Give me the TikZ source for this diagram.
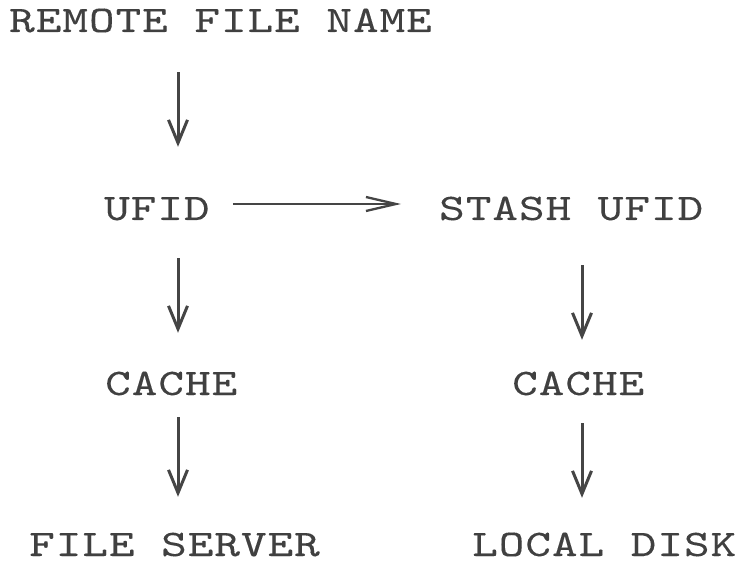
\documentclass[tikz,border=0pt]{standalone}
\usepackage{fontspec}
\setmonofont{lmmono10-regular}[Extension=.otf, FakeStretch=1.3, FakeBold=0.15, LetterSpace=2.7]
\usetikzlibrary{arrows.meta}
\definecolor{ink}{HTML}{404040}
\definecolor{arrowc}{HTML}{454545}
\begin{document}
\begin{tikzpicture}[x=1pt,y=-1pt,
  lbl/.style={font=\ttfamily\fontsize{37.5}{37.5}\selectfont, text=ink,
    inner sep=0pt, anchor=base west, text height=22pt, text depth=0pt},
  varr/.style={draw=arrowc, line width=3pt,
    -{Straight Barb[length=23pt,width=19pt]}},
  harr/.style={draw=arrowc, line width=2.3pt,
    -{Straight Barb[length=30pt,width=14pt]}}]
  \fill[white] (0,0) rectangle (739,561);
  \useasboundingbox (0,0) rectangle (739,561);

  % labels, placed by their baselines
  \node[lbl] (remote) at (9,32)   {REMOTE FILE NAME};
  \node[lbl] (ufid)   at (104,220) {UFID};
  \node[lbl] (stash)  at (439,220) {STASH UFID};
  \node[lbl] (cachel) at (105,395) {CACHE};
  \node[lbl] (cacher) at (512,395) {CACHE};
  \node[lbl] (server) at (29,556) {FILE SERVER};
  \node[lbl] (disk)   at (472,556) {LOCAL DISK};

  % arrow columns and the row of the side arrow
  \coordinate (xl) at (178,0);
  \coordinate (xr) at (582,0);
  \coordinate (hy) at (0,204);

  \draw[varr, shorten <=40pt, shorten >=51pt] (remote.south -| xl) -- (ufid.north -| xl);
  \draw[varr, shorten <=38pt, shorten >=40pt] (ufid.south -| xl) -- (cachel.north -| xl);
  \draw[varr, shorten <=22pt, shorten >=37pt] (cachel.south -| xl) -- (server.north -| xl);
  \draw[varr, shorten <=45pt, shorten >=33pt] (stash.south -| xr) -- (cacher.north -| xr);
  \draw[varr, shorten <=28pt, shorten >=36pt] (cacher.south -| xr) -- (disk.north -| xr);
  \draw[harr, shorten <=23pt, shorten >=38pt] (ufid.east |- hy) -- (stash.west |- hy);
\end{tikzpicture}
\end{document}
